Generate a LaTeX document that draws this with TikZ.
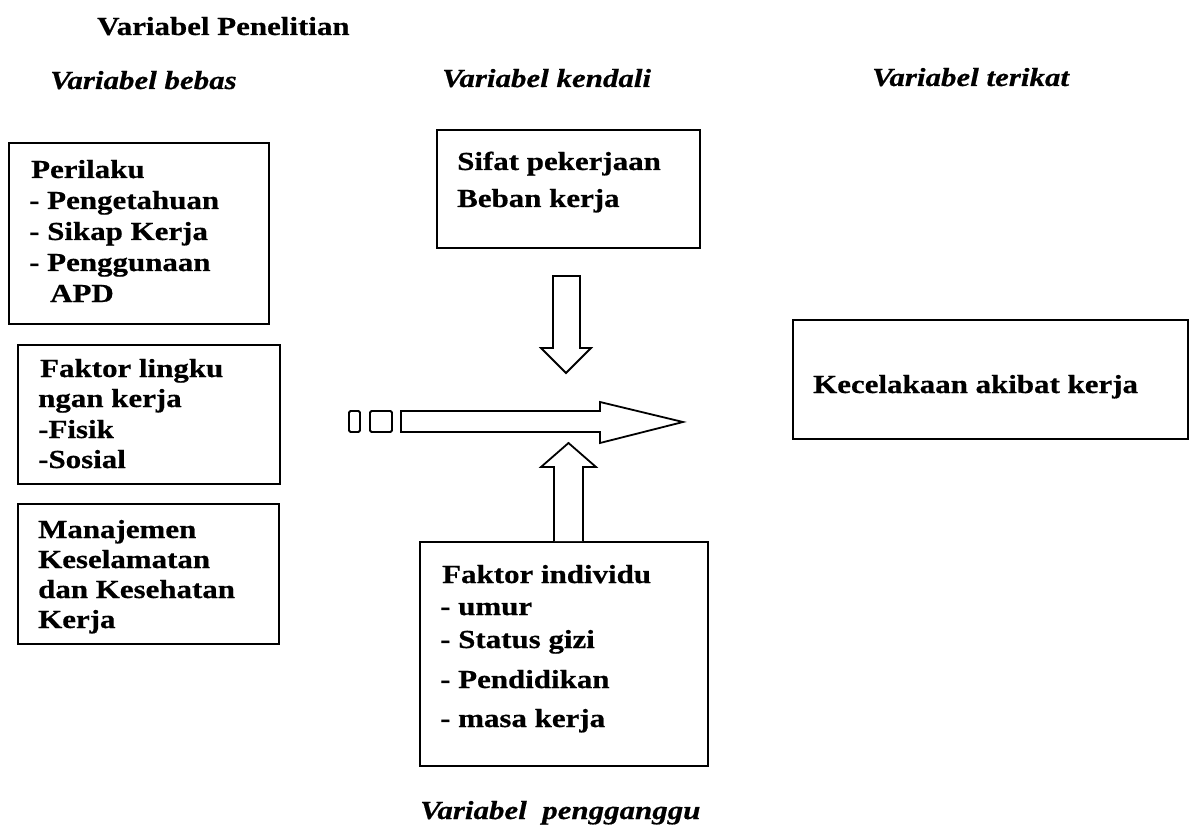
\documentclass[tikz,border=0pt]{standalone}
\usepackage{fontspec}
\setmainfont[FakeStretch=1.19,BoldFeatures={FakeBold=0.6},BoldItalicFeatures={FakeBold=0.6}]{Liberation Serif}
\begin{document}
\begin{tikzpicture}[x=1pt,y=-1pt,
  box/.style={draw,line width=1.8pt,inner sep=0pt,anchor=north west},
  txt/.style={anchor=base west,inner sep=0pt,font=\fontsize{26}{30}\selectfont\bfseries},
  itxt/.style={anchor=base west,inner sep=0pt,font=\fontsize{26}{30}\selectfont\bfseries\itshape},
  blk/.style={draw,line width=1.8pt,line join=miter,fill=white}]
\useasboundingbox (0,0) rectangle (1189,829);

% headings
\node[txt] (title) at (97,35) {Variabel Penelitian};
\node[itxt] (hbebas) at (50,89) {Variabel bebas};
\node[itxt] (hkendali) at (442,87) {Variabel kendali};
\node[itxt] (hterikat) at (872,86) {Variabel terikat};
\node[itxt] (hganggu) at (420,819) {Variabel\ \ pengganggu};

% boxes
\node[box,minimum width=260pt,minimum height=181pt] (b1) at (8,142) {};
\node[box,minimum width=262pt,minimum height=139pt] (b2) at (17,344) {};
\node[box,minimum width=261pt,minimum height=140pt] (b3) at (17,503) {};
\node[box,minimum width=263pt,minimum height=118pt] (bk) at (436,129) {};
\node[box,minimum width=288pt,minimum height=224pt] (bi) at (419,541) {};
\node[box,minimum width=395pt,minimum height=119pt] (bt) at (792,319) {};

% box texts
\node[txt] (t1a) at (31,178) {Perilaku};
\node[txt] (t1b) at (29,209) {- Pengetahuan};
\node[txt] (t1c) at (29,240) {- Sikap Kerja};
\node[txt] (t1d) at (29,271) {- Penggunaan};
\node[txt] (t1e) at (50,302) {APD};

\node[txt] (t2a) at (40,377) {Faktor lingku};
\node[txt] (t2b) at (38,407) {ngan kerja};
\node[txt] (t2c) at (38,438) {-Fisik};
\node[txt] (t2d) at (38,468) {-Sosial};

\node[txt] (t3a) at (38,538) {Manajemen};
\node[txt] (t3b) at (38,568) {Keselamatan};
\node[txt] (t3c) at (38,598) {dan Kesehatan};
\node[txt] (t3d) at (38,628) {Kerja};

\node[txt] (tka) at (457,170) {Sifat pekerjaan};
\node[txt] (tkb) at (457,207) {Beban kerja};

\node[txt] (tia) at (442,583) {Faktor individu};
\node[txt] (tib) at (440,615) {- umur};
\node[txt] (tic) at (440,648) {- Status gizi};
\node[txt] (tid) at (440,688) {- Pendidikan};
\node[txt] (tie) at (440,727) {- masa kerja};

\node[txt] (tt) at (813,393) {Kecelakaan akibat kerja};

% down block arrow (kendali)
\draw[blk] (553,276) -- (580,276) -- (580,348) -- (591,348) -- (566,373)
  -- (541,348) -- (553,348) -- cycle;

% up block arrow (pengganggu)
\draw[blk] (554,541) -- (554,467) -- (541,467) -- (568.5,443) -- (596,467)
  -- (583,467) -- (583,541);

% horizontal block arrow
\draw[blk,rounded corners=1.5pt] (349,411) rectangle (360,432);
\draw[blk,rounded corners=1.5pt] (370,411) rectangle (392,432);
\draw[blk] (401,411) -- (600,411) -- (600,402) -- (683,422) -- (600,443)
  -- (600,432) -- (401,432) -- cycle;
\end{tikzpicture}
\end{document}
